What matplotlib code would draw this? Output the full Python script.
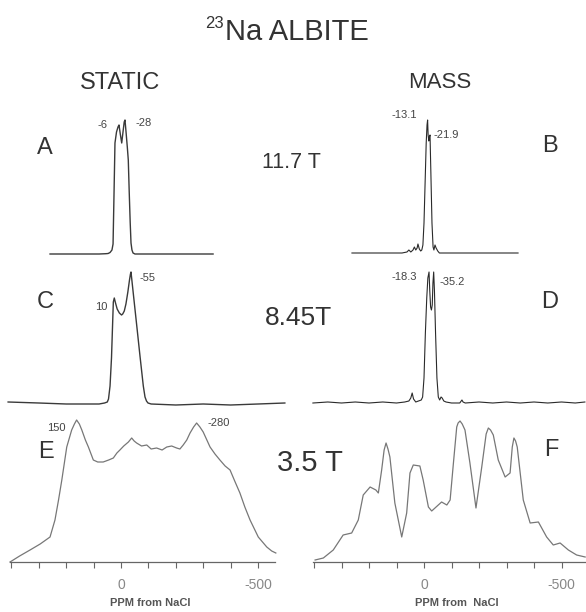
import matplotlib
matplotlib.use("Agg")
import matplotlib.pyplot as plt

plt.rcParams['font.family'] = ['Liberation Sans', 'DejaVu Sans']

W, H = 586, 612

# ---- spectra (ppm, intensity in arbitrary units) ----
# A : static, 11.7 T
A_ppm = [259, 150, 80, 55, 47, 40, 33, 29, 25.5, 22, 16.4, 11, 7.3, 2.6, -2.6,
         -7.3, -11.7, -14.6, -19, -23, -26.6, -30, -33.5, -36.5, -40, -44, -51,
         -100, -200, -336]
A_int = [0, 0, 0, 0.3, 0.5, 1.5, 4, 10, 60, 111, 122, 127, 129, 120, 111,
         122, 132, 134, 120, 107, 94, 62, 32, 11, 4, 1, 0,
         0, 0, 0]

# C : static, 8.45 T
C_ppm = [412, 300, 200, 120, 80, 60, 50, 45.6, 40, 34.7, 28, 24.5, 20, 14, 6,
         -2, -6.2, -12, -18, -25, -31, -34.5, -36.5, -40, -47.4, -58.4, -69.3,
         -81.4, -87.6, -93, -98.5, -110, -200, -300, -400, -500, -598]
C_int = [2, 1, 0, 0, 0, 1, 2, 5, 18, 46, 102, 106, 101, 95, 91,
         89, 90, 93, 100, 112, 124, 130, 132, 123, 104, 76, 48,
         18, 7, 3, 1, 0, -1, 0, -1, 0, 1]

# E : static, 3.5 T
E_ppm = [405, 370, 332, 295, 259, 241, 228, 216, 198, 180, 170, 162, 152, 143,
         130, 119, 101, 85, 65, 45, 28, 15, 4, -10, -27, -39, -48, -57, -75,
         -94, -110, -130, -150, -167, -185, -203, -215, -227, -240, -252, -265,
         -276, -288, -300, -325, -343, -361, -380, -398, -415, -434, -452, -471,
         -501, -532, -550, -565]
E_int = [0, 6, 12, 18, 25, 42, 62, 82, 115, 132, 138, 142, 138, 132,
         122, 115, 102, 100, 100, 102, 104, 109, 112, 116, 120, 124, 121, 119, 116,
         117, 113, 114, 112, 115, 116, 114, 113, 117, 122, 129, 135,
         139, 135, 130, 115, 108, 102, 96, 92, 81, 69, 55, 42,
         25, 15, 11, 9]

# B : MASS, 11.7 T
B_ppm = [262, 150, 80, 62, 55, 48, 40, 35, 30, 25, 22, 17, 12, 8, 4, 0, -4, -8,
         -11, -13.1, -15, -17.5, -19.5, -21.9, -25, -29, -33, -36, -40, -44, -50,
         -56, -70, -150, -250, -342]
B_int = [0, 0, 0, 1, 3, 1, 3, 6, 3, 5, 9, 4, 2, 3, 8, 30, 70, 110,
         128, 133, 118, 112, 116, 118, 80, 30, 6, 3, 8, 5, 2,
         0, 0, 0, 0, 0]

# D : MASS, 8.45 T
D_ppm = [404, 350, 300, 250, 200, 150, 100, 70, 55, 48, 43, 38, 30, 20, 10, 5,
         0, -5, -10, -14, -18.3, -21, -24, -27, -30, -32.5, -35.2, -38, -42, -47,
         -52, -57, -62, -66, -72, -80, -100, -130, -138, -142, -150, -200, -250,
         -300, -350, -400, -450, -500, -550, -585]
D_int = [0, 1, 0, 1, 0, 1, 0, 1, 2, 5, 10, 4, 1, 2, 3, 6,
         25, 70, 105, 125, 131, 112, 96, 93, 98, 120, 131, 112, 70, 25,
         6, 3, 6, 5, 2, 1, 0, 0, 3, 1, 0, 1, 0,
         1, 0, 1, 0, 1, 0, 1]

# F : MASS, 3.5 T
F_ppm = [396, 366, 330, 294, 263, 239, 221, 196, 175, 166, 154, 145, 138, 131,
         124, 106, 81, 63, 51, 39, 15, 3, -16, -28, -52, -64, -83, -95, -107,
         -119, -124, -131, -139, -149, -167, -189, -210, -226, -234, -242, -252,
         -270, -295, -313, -321, -327, -333, -339, -361, -386, -416, -446, -470,
         -495, -525, -555, -586]
F_int = [2, 4, 12, 27, 29, 42, 67, 75, 72, 69, 92, 112, 119, 113,
         105, 59, 25, 49, 89, 97, 96, 82, 55, 51, 57, 60, 57, 62, 99,
         135, 139, 141, 138, 132, 99, 54, 95, 128, 134, 132, 127,
         102, 85, 89, 115, 124, 121, 115, 62, 39, 40, 25, 17,
         19, 12, 7, 5]

# peak labels: (text, x px, y px, ha)
PEAK_LABELS = [("-6", 107, 125, 'right'), ("-28", 135, 123, 'left'),
               ("10", 107, 307, 'right'), ("-55", 140, 278, 'left'),
               ("150", 56, 428, 'center'), ("-280", 207, 423, 'left'),
               ("-13.1", 417, 115, 'right'), ("-21.9", 433, 135, 'left'),
               ("-18.3", 417, 277, 'right'), ("-35.2", 440, 282, 'left')]

PANEL_LETTERS = [("A", 45, 148), ("B", 550, 146), ("C", 45, 302),
                 ("D", 550, 302), ("E", 46, 452), ("F", 551, 450)]

FIELDS = [("11.7 T", 291, 163, 15.5), ("8.45T", 298, 318, 19),
          ("3.5 T", 310, 463, 21)]

TICKS = [400, 300, 200, 100, 0, -100, -200, -300, -400, -500]
TICK_LABELS = ['', '', '', '', '0', '', '', '', '', '-500']

# column calibration: pixel of 0 ppm, pixels per ppm, pixel extent
LEFT_COL = dict(zero=121, scale=0.274, x0=0, x1=290, spine=(10, 275))
RIGHT_COL = dict(zero=424, scale=0.275, x0=290, x1=586, spine=(313, 586))


def fxy(x, y):
    """Pixel position (from top-left) to figure fraction."""
    return x / W, 1 - y / H


def px_to_ppm(col, px):
    return (col['zero'] - px) / col['scale']


def panel(fig, col, base, ppm, inten, color, lw, axis=False):
    """Add one spectrum axes whose baseline sits at pixel row `base`."""
    hgt = 150
    rect = [col['x0'] / W, (H - base) / H, (col['x1'] - col['x0']) / W, hgt / H]
    ax = fig.add_axes(rect)
    ax.set_xlim(px_to_ppm(col, col['x0']), px_to_ppm(col, col['x1']))
    ax.set_ylim(0, hgt)
    ax.patch.set_alpha(0)
    ax.plot(ppm, inten, color=color, lw=lw, clip_on=False, solid_joinstyle='round')
    for s in ['top', 'left', 'right']:
        ax.spines[s].set_visible(False)
    ax.set_yticks([])
    if axis:
        sp = ax.spines['bottom']
        sp.set_bounds(px_to_ppm(col, col['spine'][0]), px_to_ppm(col, col['spine'][1]))
        sp.set_color('#666666')
        sp.set_linewidth(0.9)
        ax.set_xticks(TICKS)
        ax.set_xticklabels(TICK_LABELS)
        ax.tick_params(axis='x', direction='out', length=4.5, width=0.8,
                       color='#666666', pad=7, labelsize=10, labelcolor='#888888')
    else:
        ax.spines['bottom'].set_visible(False)
        ax.set_xticks([])
    return ax


def main():
    fig = plt.figure(figsize=(W / 100, H / 100), dpi=100)

    panel(fig, LEFT_COL, 254, A_ppm, A_int, '#3a3a3a', 1.0)
    panel(fig, LEFT_COL, 404, C_ppm, C_int, '#3a3a3a', 1.0)
    panel(fig, LEFT_COL, 562, E_ppm, E_int, '#777777', 0.9, axis=True)
    panel(fig, RIGHT_COL, 253, B_ppm, B_int, '#2a2a2a', 0.8)
    panel(fig, RIGHT_COL, 403, D_ppm, D_int, '#2a2a2a', 0.8)
    panel(fig, RIGHT_COL, 562, F_ppm, F_int, '#777777', 0.9, axis=True)

    # titles
    fig.text(*fxy(205, 23), "23", fontsize=12, color='#333333', ha='left', va='center')
    fig.text(*fxy(225, 32), "Na ALBITE", fontsize=21, color='#333333', ha='left', va='center')
    fig.text(*fxy(120, 83), "STATIC", fontsize=17, color='#333333', ha='center', va='center')
    fig.text(*fxy(440, 83), "MASS", fontsize=16, color='#333333', ha='center', va='center')

    for txt, x, y, fs in FIELDS:
        fig.text(*fxy(x, y), txt, fontsize=fs, color='#333333', ha='center', va='center')
    for txt, x, y in PANEL_LETTERS:
        fig.text(*fxy(x, y), txt, fontsize=17, color='#333333', ha='center', va='center')
    for txt, x, y, ha in PEAK_LABELS:
        fig.text(*fxy(x, y), txt, fontsize=8, color='#444444', ha=ha, va='center')

    fig.text(*fxy(150, 603), "PPM from NaCl", fontsize=8, fontweight='bold',
             color='#555555', ha='center', va='center')
    fig.text(*fxy(457, 603), "PPM from  NaCl", fontsize=8, fontweight='bold',
             color='#555555', ha='center', va='center')

    fig.savefig("out.png", dpi=100)


if __name__ == "__main__":
    main()
